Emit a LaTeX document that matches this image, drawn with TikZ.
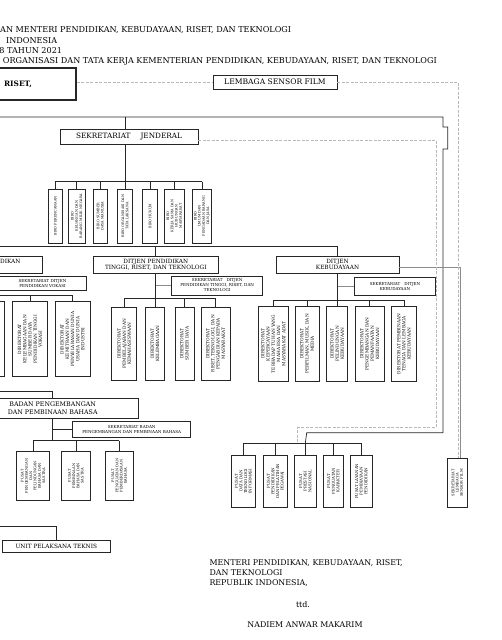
\documentclass[tikz,border=0pt]{standalone}
\usepackage{fontspec}
\setmainfont{DejaVu Serif}
\newcommand{\fsz}[2]{\fontsize{#1}{#2}\selectfont}
\begin{document}
\begin{tikzpicture}[x=1pt,y=-1pt,
  bx/.style={draw=black!85, line width=0.7pt, inner sep=0pt, align=center},
  vb/.style={bx, rotate=90},
  cn/.style={draw=black!85, line width=0.7pt},
  cg/.style={draw=black!45, line width=1.2pt},
  dl/.style={draw=black!28, line width=0.6pt, dash pattern=on 3pt off 1.5pt},
  tx/.style={inner sep=0pt},
  hd/.style={tx, anchor=base west, font=\fsz{8.1}{9}},
  sm/.style={font=\fsz{3.4}{4.2}},
  md/.style={font=\fsz{4.3}{5.2}},
  sk/.style={font=\fsz{4.1}{5}}
]
\useasboundingbox (0,0) rectangle (502,640);
\clip (0,0) rectangle (502,640);

% header
\node[hd] (h1) at (0,32.3) {AN MENTERI PENDIDIKAN, KEBUDAYAAN, RISET, DAN TEKNOLOGI};
\node[hd] (h2) at (6,43) {INDONESIA};
\node[hd] (h3) at (-0.8,53.7) {8 TAHUN 2021};
\node[hd] (h4) at (2.7,63.3) {ORGANISASI DAN TATA KERJA KEMENTERIAN PENDIDIKAN, KEBUDAYAAN, RISET, DAN TEKNOLOGI};

% top boxes
\node[bx, line width=1.2pt, minimum width=116pt, minimum height=32pt, font=\bfseries\fsz{7.4}{9}] (men) at (18,84) {RISET,};
\node[bx, minimum width=124pt, minimum height=14pt, font=\fsz{7.6}{9}] (lsf) at (275,82) {LEMBAGA SENSOR FILM};
\node[bx, minimum width=138pt, minimum height=15pt, font=\fsz{7.3}{9}] (sekjen) at (129,136.5) {SEKRETARIAT\hspace{10pt}JENDERAL};

% biro
\node[vb, sm, minimum width=54pt, minimum height=14pt] (b1) at (55.3,216) {BIRO PERENCANAAN};
\node[vb, sm, minimum width=54pt, minimum height=16.7pt] (b2) at (76.7,216) {BIRO\\KEUANGAN DAN\\BARANG MILIK NEGARA};
\node[vb, sm, minimum width=54pt, minimum height=14pt] (b3) at (100.3,216) {BIRO SUMBER\\DAYA MANUSIA};
\node[vb, sm, minimum width=54pt, minimum height=15.4pt] (b4) at (125,216) {BIRO ORGANISASI DAN\\TATA LAKSANA};
\node[vb, sm, minimum width=54pt, minimum height=15pt] (b5) at (150.2,216) {BIRO HUKUM};
\node[vb, sm, minimum width=54pt, minimum height=20pt] (b6) at (174.3,216) {BIRO\\KERJA SAMA DAN\\HUBUNGAN\\MASYARAKAT};
\node[vb, sm, minimum width=54pt, minimum height=19.7pt] (b7) at (201.9,216) {BIRO\\UMUM DAN\\PENGADAAN BARANG\\DAN JASA};

% ditjen
\node[bx, minimum width=122pt, minimum height=17pt] (vok) at (-18.9,264.5) {};
\node[tx, anchor=west, font=\fsz{5.8}{6}] (vokt) at (0,261) {DIKAN};
\node[bx, minimum width=125pt, minimum height=17pt, font=\fsz{5.8}{5.9}] (dikti) at (155.8,264.5) {DITJEN PENDIDIKAN\\TINGGI, RISET, DAN TEKNOLOGI};
\node[bx, minimum width=123pt, minimum height=17pt, font=\fsz{5.8}{5.9}] (keb) at (337.5,264.5) {DITJEN\\KEBUDAYAAN};

% sekretariat
\node[bx, sk, minimum width=87pt, minimum height=14.7pt] (vsek) at (42.5,283.3) {SEKRETARIAT DITJEN\\PENDIDIKAN VOKASI};
\node[bx, sk, minimum width=91pt, minimum height=19pt] (dsek) at (217.2,285.5) {SEKRETARIAT\hspace{4pt}DITJEN\\PENDIDIKAN TINGGI, RISET, DAN\\TEKNOLOGI};
\node[bx, sk, minimum width=81.4pt, minimum height=17.7pt] (ksek) at (395,286.2) {SEKRETARIAT\hspace{4pt}DITJEN\\KEBUDAYAAN};

% vokasi
\node[vb, md, minimum width=75pt, minimum height=34pt] (v0) at (-13,339.2) {};
\node[vb, md, minimum width=75pt, minimum height=35.4pt] (v1) at (30,339.2) {DIREKTORAT\\KELEMBAGAAN DAN\\SUMBER DAYA\\PENDIDIKAN TINGGI\\VOKASI};
\node[vb, md, minimum width=75pt, minimum height=35pt] (v2) at (72.5,339.2) {DIREKTORAT\\KEMITRAAN DAN\\PENYELARASAN DUNIA\\USAHA DAN DUNIA\\INDUSTRI};

% dikti
\node[vb, md, minimum width=72.7pt, minimum height=25pt] (d1) at (124.2,343.7) {DIREKTORAT\\PEMBELAJARAN DAN\\KEMAHASISWAAN};
\node[vb, md, minimum width=72.7pt, minimum height=18.6pt] (d2) at (155,343.7) {DIREKTORAT\\KELEMBAGAAN};
\node[vb, md, minimum width=72.7pt, minimum height=19pt] (d3) at (184.5,343.7) {DIREKTORAT\\SUMBER DAYA};
\node[vb, md, minimum width=72.7pt, minimum height=29pt] (d4) at (215.5,343.7) {DIREKTORAT\\RISET, TEKNOLOGI, DAN\\PENGABDIAN KEPADA\\MASYARAKAT};

% kebudayaan
\node[vb, md, minimum width=74.3pt, minimum height=30pt] (k1) at (273.3,343.9) {DIREKTORAT\\KEPERCAYAAN\\TERHADAP TUHAN YANG\\MAHA ESA DAN\\MASYARAKAT ADAT};
\node[vb, md, minimum width=74.3pt, minimum height=24pt] (k2) at (307,343.9) {DIREKTORAT\\PERFILMAN, MUSIK, DAN\\MEDIA};
\node[vb, md, minimum width=74.3pt, minimum height=21pt] (k3) at (337.2,343.9) {DIREKTORAT\\PELINDUNGAN\\KEBUDAYAAN};
\node[vb, md, minimum width=74.3pt, minimum height=29.3pt] (k4) at (369.7,343.9) {DIREKTORAT\\PENGEMBANGAN DAN\\PEMANFAATAN\\KEBUDAYAAN};
\node[vb, md, minimum width=74.3pt, minimum height=24.3pt] (k5) at (403.9,343.9) {DIREKTORAT PEMBINAAN\\TENAGA DAN LEMBAGA\\KEBUDAYAAN};

% badan bahasa
\node[bx, minimum width=171.3pt, minimum height=20.3pt, font=\fsz{6.3}{7.7}] (bad) at (52.7,408.2) {BADAN PENGEMBANGAN\\DAN PEMBINAAN BAHASA};
\node[bx, sk, minimum width=118pt, minimum height=15.6pt] (bsek) at (131.7,429.5) {SEKRETARIAT BADAN\\PENGEMBANGAN DAN PEMBINAAN BAHASA};
\node[vb, font=\fsz{3.6}{4.3}, minimum width=49.7pt, minimum height=32.6pt] (ba1) at (33,475.9) {PUSAT\\PENGEMBANGAN\\DAN\\PELINDUNGAN\\BAHASA DAN\\SASTRA};
\node[vb, font=\fsz{3.6}{4.3}, minimum width=49.7pt, minimum height=28.3pt] (ba2) at (75.9,475.9) {PUSAT\\PEMBINAAN\\BAHASA DAN\\SASTRA};
\node[vb, font=\fsz{3.6}{4.3}, minimum width=49.7pt, minimum height=28.3pt] (ba3) at (119.2,475.9) {PUSAT\\PENGUATAN DAN\\PEMBERDAYAAN\\BAHASA};

% UPT
\node[bx, minimum width=107.3pt, minimum height=12.7pt, font=\fsz{5.8}{7}] (upt) at (56.3,546.3) {UNIT PELAKSANA TEKNIS};

% pusat
\node[vb, font=\fsz{3.9}{4.6}, minimum width=52.3pt, minimum height=23.3pt] (p1) at (243.3,481.2) {PUSAT\\DATA DAN\\TEKNOLOGI\\INFORMASI};
\node[vb, font=\fsz{3.9}{4.6}, minimum width=52.3pt, minimum height=24pt] (p2) at (275.3,481.2) {PUSAT\\PENDIDIKAN\\DAN PELATIHAN\\PEGAWAI};
\node[vb, font=\fsz{3.9}{4.6}, minimum width=52.3pt, minimum height=22pt] (p3) at (305.3,481.2) {PUSAT\\PRESTASI\\NASIONAL};
\node[vb, font=\fsz{3.9}{4.6}, minimum width=52.3pt, minimum height=20pt] (p4) at (333.3,481.2) {PUSAT\\PENGUATAN\\KARAKTER};
\node[vb, font=\fsz{3.9}{4.6}, minimum width=52.3pt, minimum height=22.7pt] (p5) at (361.3,481.2) {PUSAT LAYANAN\\PEMBIAYAAN\\PENDIDIKAN};

% sekretariat LSF
\node[vb, font=\fsz{3.6}{4.3}, minimum width=49.4pt, minimum height=20pt] (lsek) at (457.3,483) {SEKRETARIAT\\LEMBAGA\\SENSOR FILM};

% signature
\node[tx, anchor=north west, align=left, font=\fsz{7.9}{10}] (sig) at (209.3,559) {MENTERI PENDIDIKAN, KEBUDAYAAN, RISET,\\DAN TEKNOLOGI\\REPUBLIK INDONESIA,};
\node[tx, font=\fsz{7.9}{9}] (ttd) at (303,605) {ttd.};
\node[tx, font=\fsz{7.9}{9}] (nad) at (305,625) {NADIEM ANWAR MAKARIM};

% bus coordinates
\coordinate (topbus) at (0,117);
\coordinate (bbus) at (0,181.7);
\coordinate (dbus) at (0,246.7);
\coordinate (vbus) at (0,295);
\coordinate (dkbus) at (0,298.3);
\coordinate (kbus) at (0,300);
\coordinate (babus) at (0,440.7);
\coordinate (pbus) at (0,443.3);

% trunk
\draw[cn] (-5,117) -- (443,117) -- (443,127) -- (447.7,127) -- (447.7,149) -- (443,149) -- (443,432.7) -- (306.7,432.7) -- (p3.east |- pbus);
\draw[cn] (b4.east |- topbus) -- (sekjen.north -| b4.east);
\draw[cn] (sekjen.south -| b4.east) -- (b4.east);
\draw[cn] (b1.east |- bbus) -- (b7.east |- bbus);
\foreach \n in {b1,b2,b3,b5,b6,b7} \draw[cn] (\n.east |- bbus) -- (\n.east);

% ditjen bus
\draw[cn] (-5,246.7) -- (keb.north |- dbus) -- (keb.north);
\draw[cn] (dikti.north |- dbus) -- (dikti.north);

% vokasi
\draw[cn] (v0.east |- vbus) -- (v2.east |- vbus);
\foreach \n in {v0,v1,v2} \draw[cn] (\n.east |- vbus) -- (\n.east);

% dikti
\draw[cn] (dikti.south) -- (dikti.south |- dkbus);
\draw[cg] (dikti.south |- dsek.west) -- (dsek.west);
\draw[cn] (d1.east |- dkbus) -- (d4.east |- dkbus);
\foreach \n in {d1,d2,d3,d4} \draw[cn] (\n.east |- dkbus) -- (\n.east);

% kebudayaan
\draw[cn] (keb.south) -- (keb.south |- kbus);
\draw[cg] (keb.south |- ksek.west) -- (ksek.west);
\draw[cn] (k1.east |- kbus) -- (k5.east |- kbus);
\foreach \n in {k1,k2,k3,k4,k5} \draw[cn] (\n.east |- kbus) -- (\n.east);
\draw[cg] ([yshift=-2.8pt]keb.east) -| ([xshift=3.4pt]lsek.east);

% badan
\draw[cn] (-5,391.7) -| (bad.north);
\draw[cn] (bad.south) -- (bad.south |- babus);
\draw[cn] (bad.south |- bsek.west) -- (bsek.west);
\draw[cn] (ba1.east |- babus) -- (ba3.east |- babus);
\foreach \n in {ba1,ba2,ba3} \draw[cn] (\n.east |- babus) -- (\n.east);

% upt
\draw[cn] (-5,526.7) -| (upt.north);

% pusat
\draw[cn] (p1.east |- pbus) -- (p5.east |- pbus);
\foreach \n in {p1,p2,p3,p4,p5} \draw[cn] (\n.east |- pbus) -- (\n.east);

% dashed coordination lines
\draw[dl] (men.east |- lsf.west) -- (lsf.west);
\draw[dl] (lsf.east) -| ([xshift=1pt]lsek.east);
\draw[dl] ([yshift=-3.5pt]sekjen.east) -- (436,140) -- (436,427.7) -- (297.7,427.7) -- ([xshift=-7.6pt]p3.east |- pbus);
\end{tikzpicture}
\end{document}
